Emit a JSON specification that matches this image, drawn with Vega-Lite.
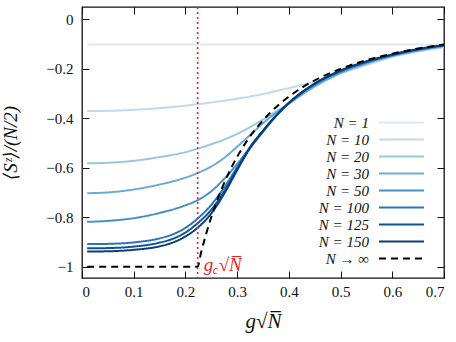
{
  "$schema": "https://vega.github.io/schema/vega-lite/v6.json",
  "width": 362,
  "height": 271,
  "autosize": "none",
  "padding": {"left": 82, "top": 7, "right": 12, "bottom": 64},
  "config": {
    "view": {"stroke": "#111111", "strokeWidth": 1.3},
    "font": "'Liberation Serif', 'DejaVu Serif', serif",
    "style": {
      "guide-label": {"font": "'Liberation Serif', 'DejaVu Serif', serif", "fill": "#111111"},
      "guide-title": {"font": "'Liberation Serif', 'DejaVu Serif', serif", "fill": "#111111"}
    },
    "axis": {
      "domain": false,
      "grid": false,
      "tickColor": "#111111",
      "tickSize": -7,
      "tickWidth": 1,
      "labelFont": "'Liberation Serif', 'DejaVu Serif', serif",
      "labelFontSize": 15,
      "labelColor": "#111111",
      "titleFont": "'Liberation Serif', 'DejaVu Serif', serif",
      "titleFontStyle": "italic",
      "titleFontWeight": "normal",
      "titleColor": "#111111"
    }
  },
  "datasets": {
    "curves": [
      {"g": 0.01, "m": -0.102, "series": "N = 1"},
      {"g": 0.35, "m": -0.102, "series": "N = 1"},
      {"g": 0.7, "m": -0.102, "series": "N = 1"},

      {"g": 0.01, "m": -0.371, "series": "N = 10"},
      {"g": 0.05, "m": -0.370, "series": "N = 10"},
      {"g": 0.1, "m": -0.366, "series": "N = 10"},
      {"g": 0.15, "m": -0.359, "series": "N = 10"},
      {"g": 0.2, "m": -0.349, "series": "N = 10"},
      {"g": 0.225, "m": -0.343, "series": "N = 10"},
      {"g": 0.25, "m": -0.336, "series": "N = 10"},
      {"g": 0.275, "m": -0.329, "series": "N = 10"},
      {"g": 0.3, "m": -0.321, "series": "N = 10"},
      {"g": 0.325, "m": -0.312, "series": "N = 10"},
      {"g": 0.35, "m": -0.302, "series": "N = 10"},
      {"g": 0.375, "m": -0.29, "series": "N = 10"},
      {"g": 0.4, "m": -0.278, "series": "N = 10"},
      {"g": 0.45, "m": -0.252, "series": "N = 10"},
      {"g": 0.5, "m": -0.218, "series": "N = 10"},
      {"g": 0.55, "m": -0.185, "series": "N = 10"},
      {"g": 0.6, "m": -0.152, "series": "N = 10"},
      {"g": 0.65, "m": -0.13, "series": "N = 10"},
      {"g": 0.7, "m": -0.113, "series": "N = 10"},

      {"g": 0.01, "m": -0.582, "series": "N = 20"},
      {"g": 0.05, "m": -0.580, "series": "N = 20"},
      {"g": 0.1, "m": -0.572, "series": "N = 20"},
      {"g": 0.15, "m": -0.557, "series": "N = 20"},
      {"g": 0.2, "m": -0.537, "series": "N = 20"},
      {"g": 0.225, "m": -0.522, "series": "N = 20"},
      {"g": 0.25, "m": -0.505, "series": "N = 20"},
      {"g": 0.275, "m": -0.486, "series": "N = 20"},
      {"g": 0.3, "m": -0.463, "series": "N = 20"},
      {"g": 0.325, "m": -0.436, "series": "N = 20"},
      {"g": 0.35, "m": -0.405, "series": "N = 20"},
      {"g": 0.375, "m": -0.373, "series": "N = 20"},
      {"g": 0.4, "m": -0.34, "series": "N = 20"},
      {"g": 0.45, "m": -0.272, "series": "N = 20"},
      {"g": 0.5, "m": -0.218, "series": "N = 20"},
      {"g": 0.55, "m": -0.18, "series": "N = 20"},
      {"g": 0.6, "m": -0.149, "series": "N = 20"},
      {"g": 0.65, "m": -0.127, "series": "N = 20"},
      {"g": 0.7, "m": -0.11, "series": "N = 20"},

      {"g": 0.01, "m": -0.703, "series": "N = 30"},
      {"g": 0.05, "m": -0.700, "series": "N = 30"},
      {"g": 0.1, "m": -0.688, "series": "N = 30"},
      {"g": 0.15, "m": -0.668, "series": "N = 30"},
      {"g": 0.2, "m": -0.64, "series": "N = 30"},
      {"g": 0.225, "m": -0.62, "series": "N = 30"},
      {"g": 0.25, "m": -0.595, "series": "N = 30"},
      {"g": 0.275, "m": -0.56, "series": "N = 30"},
      {"g": 0.3, "m": -0.515, "series": "N = 30"},
      {"g": 0.325, "m": -0.468, "series": "N = 30"},
      {"g": 0.35, "m": -0.42, "series": "N = 30"},
      {"g": 0.375, "m": -0.378, "series": "N = 30"},
      {"g": 0.4, "m": -0.341, "series": "N = 30"},
      {"g": 0.45, "m": -0.27, "series": "N = 30"},
      {"g": 0.5, "m": -0.216, "series": "N = 30"},
      {"g": 0.55, "m": -0.178, "series": "N = 30"},
      {"g": 0.6, "m": -0.148, "series": "N = 30"},
      {"g": 0.65, "m": -0.126, "series": "N = 30"},
      {"g": 0.7, "m": -0.108, "series": "N = 30"},

      {"g": 0.01, "m": -0.819, "series": "N = 50"},
      {"g": 0.05, "m": -0.815, "series": "N = 50"},
      {"g": 0.1, "m": -0.804, "series": "N = 50"},
      {"g": 0.15, "m": -0.783, "series": "N = 50"},
      {"g": 0.2, "m": -0.752, "series": "N = 50"},
      {"g": 0.225, "m": -0.73, "series": "N = 50"},
      {"g": 0.25, "m": -0.695, "series": "N = 50"},
      {"g": 0.275, "m": -0.645, "series": "N = 50"},
      {"g": 0.3, "m": -0.585, "series": "N = 50"},
      {"g": 0.325, "m": -0.52, "series": "N = 50"},
      {"g": 0.35, "m": -0.455, "series": "N = 50"},
      {"g": 0.375, "m": -0.392, "series": "N = 50"},
      {"g": 0.4, "m": -0.34, "series": "N = 50"},
      {"g": 0.45, "m": -0.265, "series": "N = 50"},
      {"g": 0.5, "m": -0.213, "series": "N = 50"},
      {"g": 0.55, "m": -0.175, "series": "N = 50"},
      {"g": 0.6, "m": -0.146, "series": "N = 50"},
      {"g": 0.65, "m": -0.124, "series": "N = 50"},
      {"g": 0.7, "m": -0.106, "series": "N = 50"},

      {"g": 0.01, "m": -0.909, "series": "N = 100"},
      {"g": 0.05, "m": -0.908, "series": "N = 100"},
      {"g": 0.1, "m": -0.902, "series": "N = 100"},
      {"g": 0.15, "m": -0.886, "series": "N = 100"},
      {"g": 0.175, "m": -0.87, "series": "N = 100"},
      {"g": 0.2, "m": -0.843, "series": "N = 100"},
      {"g": 0.225, "m": -0.803, "series": "N = 100"},
      {"g": 0.25, "m": -0.75, "series": "N = 100"},
      {"g": 0.275, "m": -0.68, "series": "N = 100"},
      {"g": 0.3, "m": -0.598, "series": "N = 100"},
      {"g": 0.325, "m": -0.516, "series": "N = 100"},
      {"g": 0.35, "m": -0.45, "series": "N = 100"},
      {"g": 0.375, "m": -0.39, "series": "N = 100"},
      {"g": 0.4, "m": -0.339, "series": "N = 100"},
      {"g": 0.45, "m": -0.261, "series": "N = 100"},
      {"g": 0.5, "m": -0.209, "series": "N = 100"},
      {"g": 0.55, "m": -0.172, "series": "N = 100"},
      {"g": 0.6, "m": -0.144, "series": "N = 100"},
      {"g": 0.65, "m": -0.122, "series": "N = 100"},
      {"g": 0.7, "m": -0.105, "series": "N = 100"},

      {"g": 0.01, "m": -0.926, "series": "N = 125"},
      {"g": 0.05, "m": -0.925, "series": "N = 125"},
      {"g": 0.1, "m": -0.919, "series": "N = 125"},
      {"g": 0.15, "m": -0.903, "series": "N = 125"},
      {"g": 0.175, "m": -0.888, "series": "N = 125"},
      {"g": 0.2, "m": -0.862, "series": "N = 125"},
      {"g": 0.225, "m": -0.822, "series": "N = 125"},
      {"g": 0.25, "m": -0.77, "series": "N = 125"},
      {"g": 0.275, "m": -0.695, "series": "N = 125"},
      {"g": 0.3, "m": -0.605, "series": "N = 125"},
      {"g": 0.325, "m": -0.518, "series": "N = 125"},
      {"g": 0.35, "m": -0.451, "series": "N = 125"},
      {"g": 0.375, "m": -0.39, "series": "N = 125"},
      {"g": 0.4, "m": -0.338, "series": "N = 125"},
      {"g": 0.45, "m": -0.26, "series": "N = 125"},
      {"g": 0.5, "m": -0.208, "series": "N = 125"},
      {"g": 0.55, "m": -0.171, "series": "N = 125"},
      {"g": 0.6, "m": -0.143, "series": "N = 125"},
      {"g": 0.65, "m": -0.121, "series": "N = 125"},
      {"g": 0.7, "m": -0.104, "series": "N = 125"},

      {"g": 0.01, "m": -0.939, "series": "N = 150"},
      {"g": 0.05, "m": -0.938, "series": "N = 150"},
      {"g": 0.1, "m": -0.932, "series": "N = 150"},
      {"g": 0.15, "m": -0.918, "series": "N = 150"},
      {"g": 0.175, "m": -0.903, "series": "N = 150"},
      {"g": 0.2, "m": -0.878, "series": "N = 150"},
      {"g": 0.225, "m": -0.84, "series": "N = 150"},
      {"g": 0.25, "m": -0.785, "series": "N = 150"},
      {"g": 0.275, "m": -0.705, "series": "N = 150"},
      {"g": 0.3, "m": -0.61, "series": "N = 150"},
      {"g": 0.325, "m": -0.52, "series": "N = 150"},
      {"g": 0.35, "m": -0.452, "series": "N = 150"},
      {"g": 0.375, "m": -0.39, "series": "N = 150"},
      {"g": 0.4, "m": -0.338, "series": "N = 150"},
      {"g": 0.45, "m": -0.26, "series": "N = 150"},
      {"g": 0.5, "m": -0.207, "series": "N = 150"},
      {"g": 0.55, "m": -0.17, "series": "N = 150"},
      {"g": 0.6, "m": -0.142, "series": "N = 150"},
      {"g": 0.65, "m": -0.12, "series": "N = 150"},
      {"g": 0.7, "m": -0.104, "series": "N = 150"},

      {"g": 0.01, "m": -1, "series": "N → ∞"},
      {"g": 0.2236, "m": -1, "series": "N → ∞"},
      {"g": 0.23, "m": -0.945, "series": "N → ∞"},
      {"g": 0.24, "m": -0.868, "series": "N → ∞"},
      {"g": 0.25, "m": -0.8, "series": "N → ∞"},
      {"g": 0.26, "m": -0.74, "series": "N → ∞"},
      {"g": 0.27, "m": -0.686, "series": "N → ∞"},
      {"g": 0.28, "m": -0.638, "series": "N → ∞"},
      {"g": 0.29, "m": -0.595, "series": "N → ∞"},
      {"g": 0.3, "m": -0.556, "series": "N → ∞"},
      {"g": 0.32, "m": -0.488, "series": "N → ∞"},
      {"g": 0.34, "m": -0.433, "series": "N → ∞"},
      {"g": 0.36, "m": -0.386, "series": "N → ∞"},
      {"g": 0.38, "m": -0.346, "series": "N → ∞"},
      {"g": 0.4, "m": -0.3125, "series": "N → ∞"},
      {"g": 0.43, "m": -0.27, "series": "N → ∞"},
      {"g": 0.46, "m": -0.236, "series": "N → ∞"},
      {"g": 0.5, "m": -0.2, "series": "N → ∞"},
      {"g": 0.55, "m": -0.165, "series": "N → ∞"},
      {"g": 0.6, "m": -0.139, "series": "N → ∞"},
      {"g": 0.65, "m": -0.118, "series": "N → ∞"},
      {"g": 0.7, "m": -0.102, "series": "N → ∞"}
    ],
    "critical": [{"gc": 0.2236, "m": -1}]
  },
  "layer": [
    {
      "data": {"name": "curves"},
      "mark": {"type": "line", "interpolate": "monotone", "clip": true},
      "encoding": {
        "x": {
          "field": "g", "type": "quantitative",
          "scale": {"domain": [0, 0.7], "nice": false, "zero": false},
          "axis": {"values": [0, 0.1, 0.2, 0.3, 0.4, 0.5, 0.6, 0.7], "format": "~g", "labelPadding": 13, "title": "g√N̅", "titleFontSize": 21, "titlePadding": 11}
        },
        "y": {
          "field": "m", "type": "quantitative",
          "scale": {"domain": [-1.046, 0.05], "nice": false, "zero": false},
          "axis": {"values": [-1, -0.8, -0.6, -0.4, -0.2, 0], "format": "~g", "labelPadding": 16, "title": "⟨Sᶻ⟩/(N/2)", "titleFontSize": 19, "titlePadding": 25}
        },
        "color": {
          "field": "series", "type": "nominal",
          "scale": {
            "domain": ["N = 1", "N = 10", "N = 20", "N = 30", "N = 50", "N = 100", "N = 125", "N = 150", "N → ∞"],
            "range": ["#dbe8f4", "#c3d8ec", "#9cc6e0", "#6aabd5", "#4590c6", "#2a74b6", "#0e529c", "#0a3c7c", "#000000"]
          },
          "legend": {
            "orient": "none",
            "legendX": 312,
            "legendY": 108,
            "title": null,
            "padding": 0,
            "symbolType": "M-4.5,0H4.5",
            "symbolSize": 100,
            "labelFont": "'Liberation Serif', 'DejaVu Serif', serif",
            "labelFontSize": 15,
            "labelFontStyle": "italic",
            "labelColor": "#111111",
            "labelAlign": "right",
            "labelOffset": -40,
            "rowPadding": 1
          }
        },
        "strokeDash": {
          "field": "series", "type": "nominal",
          "scale": {
            "domain": ["N = 1", "N = 10", "N = 20", "N = 30", "N = 50", "N = 100", "N = 125", "N = 150", "N → ∞"],
            "range": [[1, 0], [1, 0], [1, 0], [1, 0], [1, 0], [1, 0], [1, 0], [1, 0], [7, 5]]
          }
        },
        "strokeWidth": {
          "field": "series", "type": "nominal",
          "scale": {
            "domain": ["N = 1", "N = 10", "N = 20", "N = 30", "N = 50", "N = 100", "N = 125", "N = 150", "N → ∞"],
            "range": [2, 2, 2, 2, 2, 2, 2, 2, 2.6]
          }
        }
      }
    },
    {
      "data": {"name": "critical"},
      "mark": {"type": "rule", "color": "#e3262a", "strokeDash": [2, 3], "strokeWidth": 1.6},
      "encoding": {
        "x": {"field": "gc", "type": "quantitative", "scale": {"domain": [0, 0.7], "nice": false, "zero": false}, "axis": null}
      }
    },
    {
      "data": {"name": "critical"},
      "mark": {"type": "text", "text": "g", "align": "left", "baseline": "alphabetic", "dx": 6, "dy": 4, "fontSize": 19, "fontStyle": "italic", "font": "'Liberation Serif', 'DejaVu Serif', serif", "color": "#e3262a"},
      "encoding": {
        "x": {"field": "gc", "type": "quantitative", "scale": {"domain": [0, 0.7], "nice": false, "zero": false}, "axis": null},
        "y": {"field": "m", "type": "quantitative", "scale": {"domain": [-1.046, 0.05], "nice": false, "zero": false}, "axis": null}
      }
    },
    {
      "data": {"name": "critical"},
      "mark": {"type": "text", "text": "c", "align": "left", "baseline": "alphabetic", "dx": 15, "dy": 7, "fontSize": 12, "fontStyle": "italic", "font": "'Liberation Serif', 'DejaVu Serif', serif", "color": "#e3262a"},
      "encoding": {
        "x": {"field": "gc", "type": "quantitative", "scale": {"domain": [0, 0.7], "nice": false, "zero": false}, "axis": null},
        "y": {"field": "m", "type": "quantitative", "scale": {"domain": [-1.046, 0.05], "nice": false, "zero": false}, "axis": null}
      }
    },
    {
      "data": {"name": "critical"},
      "mark": {"type": "text", "text": "√N̅", "align": "left", "baseline": "alphabetic", "dx": 21, "dy": 4, "fontSize": 19, "fontStyle": "italic", "font": "'Liberation Serif', 'DejaVu Serif', serif", "color": "#e3262a"},
      "encoding": {
        "x": {"field": "gc", "type": "quantitative", "scale": {"domain": [0, 0.7], "nice": false, "zero": false}, "axis": null},
        "y": {"field": "m", "type": "quantitative", "scale": {"domain": [-1.046, 0.05], "nice": false, "zero": false}, "axis": null}
      }
    },
    {
      "data": {"name": "critical"},
      "mark": {"type": "point", "opacity": 0},
      "encoding": {
        "x": {
          "field": "gc", "type": "quantitative",
          "scale": {"domain": [0, 0.7], "nice": false, "zero": false},
          "axis": {"orient": "top", "values": [0, 0.1, 0.2, 0.3, 0.4, 0.5, 0.6, 0.7], "labels": false, "title": null}
        },
        "y": {
          "field": "m", "type": "quantitative",
          "scale": {"domain": [-1.046, 0.05], "nice": false, "zero": false},
          "axis": {"orient": "right", "values": [-1, -0.8, -0.6, -0.4, -0.2, 0], "labels": false, "title": null}
        }
      }
    }
  ],
  "resolve": {"axis": {"x": "independent", "y": "independent"}}
}
